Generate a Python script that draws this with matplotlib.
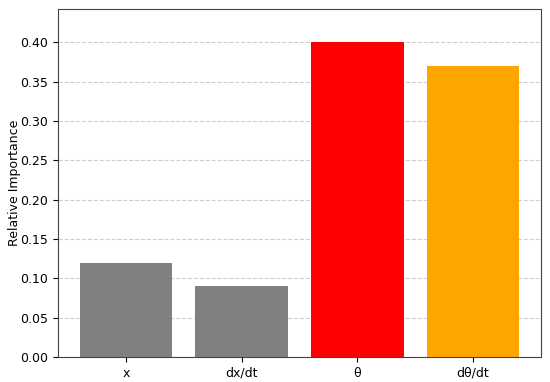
import matplotlib
matplotlib.use('Agg')
import matplotlib.pyplot as plt

features = ['x', 'dx/dt', 'θ', 'dθ/dt']
importance = [0.12, 0.09, 0.40, 0.37]
colors = ['gray', 'gray', 'red', 'orange']

plt.rcParams['font.size'] = 9

fig, ax = plt.subplots(figsize=(5.5, 3.82), dpi=100)
ax.bar(features, importance, color=colors, zorder=2)
ax.set_ylabel('Relative Importance', labelpad=-1)
ax.grid(axis='y', linestyle='--', alpha=0.6, zorder=0)
ax.set_yticks([0.0, 0.05, 0.1, 0.15, 0.2, 0.25, 0.3, 0.35, 0.4])
ax.set_ylim(0, 0.442)
for s in ax.spines.values():
    s.set_color('#444444')

fig.subplots_adjust(left=0.105, right=0.984, top=0.976, bottom=0.065)
fig.savefig('out.png')
